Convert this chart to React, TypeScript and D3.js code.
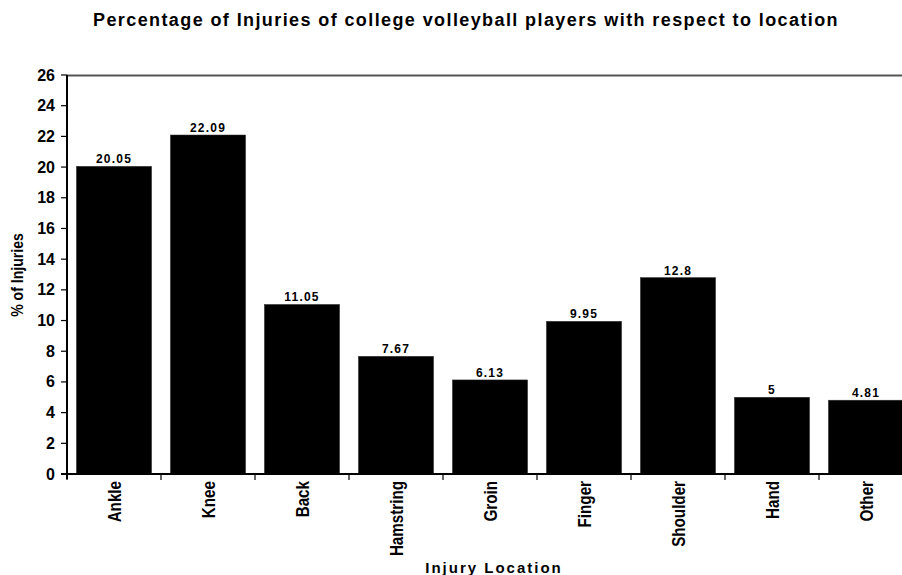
import React from "react";
import * as d3 from "d3";

const categories = ["Ankle", "Knee", "Back", "Hamstring", "Groin", "Finger", "Shoulder", "Hand", "Other"];
const values = [20.05, 22.09, 11.05, 7.67, 6.13, 9.95, 12.8, 5, 4.81];
const valueLabels = ["20.05", "22.09", "11.05", "7.67", "6.13", "9.95", "12.8", "5", "4.81"];
const yTicks = [0, 2, 4, 6, 8, 10, 12, 14, 16, 18, 20, 22, 24, 26];

const W = 902;
const H = 575;
const left = 67;
const right = 913;
const top = 75;
const bottom = 474;

export default function App() {
  const x = d3.scaleBand<string>().domain(categories).range([left, right]).paddingInner(0.2).paddingOuter(0.1);
  const y = d3.scaleLinear().domain([0, 26]).range([bottom, top]);
  const step = x.step();
  const boundaries = d3.range(categories.length + 1).map((i) => left + i * step);
  const sans = "'Liberation Sans', Arial, sans-serif";

  return (
    <svg width={W} height={H} style={{ position: "absolute", left: 0, top: 0, background: "#fff" }}>
      <text x={466} y={26} textAnchor="middle" fontFamily={sans} fontWeight="bold" fontSize={18} letterSpacing={1.4} fill="#000">
        Percentage of Injuries of college volleyball players with respect to location
      </text>
      {/* top border */}
      <line x1={left} x2={W} y1={top + 0.5} y2={top + 0.5} stroke="#555" strokeWidth={2} />
      {/* bars */}
      {categories.map((c, i) => (
        <g key={c}>
          <rect x={x(c)} y={y(values[i])} width={x.bandwidth()} height={bottom - y(values[i])} fill="#000" stroke="#333" strokeWidth={0.5} />
          <text x={(x(c) as number) + x.bandwidth() / 2} y={y(values[i]) - 3} textAnchor="middle" fontFamily={sans} fontWeight="bold" fontSize={12} letterSpacing={1.2} fill="#000">
            {valueLabels[i]}
          </text>
          <text
            transform={`translate(${(x(c) as number) + x.bandwidth() / 2 + 7},${481}) rotate(-90) scale(0.8,1)`}
            textAnchor="end"
            fontFamily={sans}
            fontWeight="bold"
            fontSize={19}
            fill="#000"
          >
            {c}
          </text>
        </g>
      ))}
      {/* y axis */}
      <line x1={left} x2={left} y1={top} y2={bottom + 5} stroke="#000" strokeWidth={2} />
      {yTicks.map((t) => (
        <g key={t}>
          <line x1={left - 6} x2={left} y1={y(t)} y2={y(t)} stroke="#000" strokeWidth={1.2} />
          <text x={55} y={y(t) + 5.5} textAnchor="end" fontFamily={sans} fontWeight="bold" fontSize={16} fill="#000">
            {t}
          </text>
        </g>
      ))}
      {/* x axis */}
      <line x1={left - 6} x2={W} y1={bottom} y2={bottom} stroke="#000" strokeWidth={2} />
      {boundaries.map((b, i) => (
        <line key={i} x1={b} x2={b} y1={bottom} y2={bottom + 6} stroke="#000" strokeWidth={1.2} />
      ))}
      <text transform={`translate(23,275) rotate(-90) scale(0.88,1)`} textAnchor="middle" fontFamily={sans} fontWeight="bold" fontSize={16} fill="#000">
        % of Injuries
      </text>
      <text x={494} y={573} textAnchor="middle" fontFamily={sans} fontWeight="bold" fontSize={15} letterSpacing={2} fill="#000">
        Injury Location
      </text>
    </svg>
  );
}
